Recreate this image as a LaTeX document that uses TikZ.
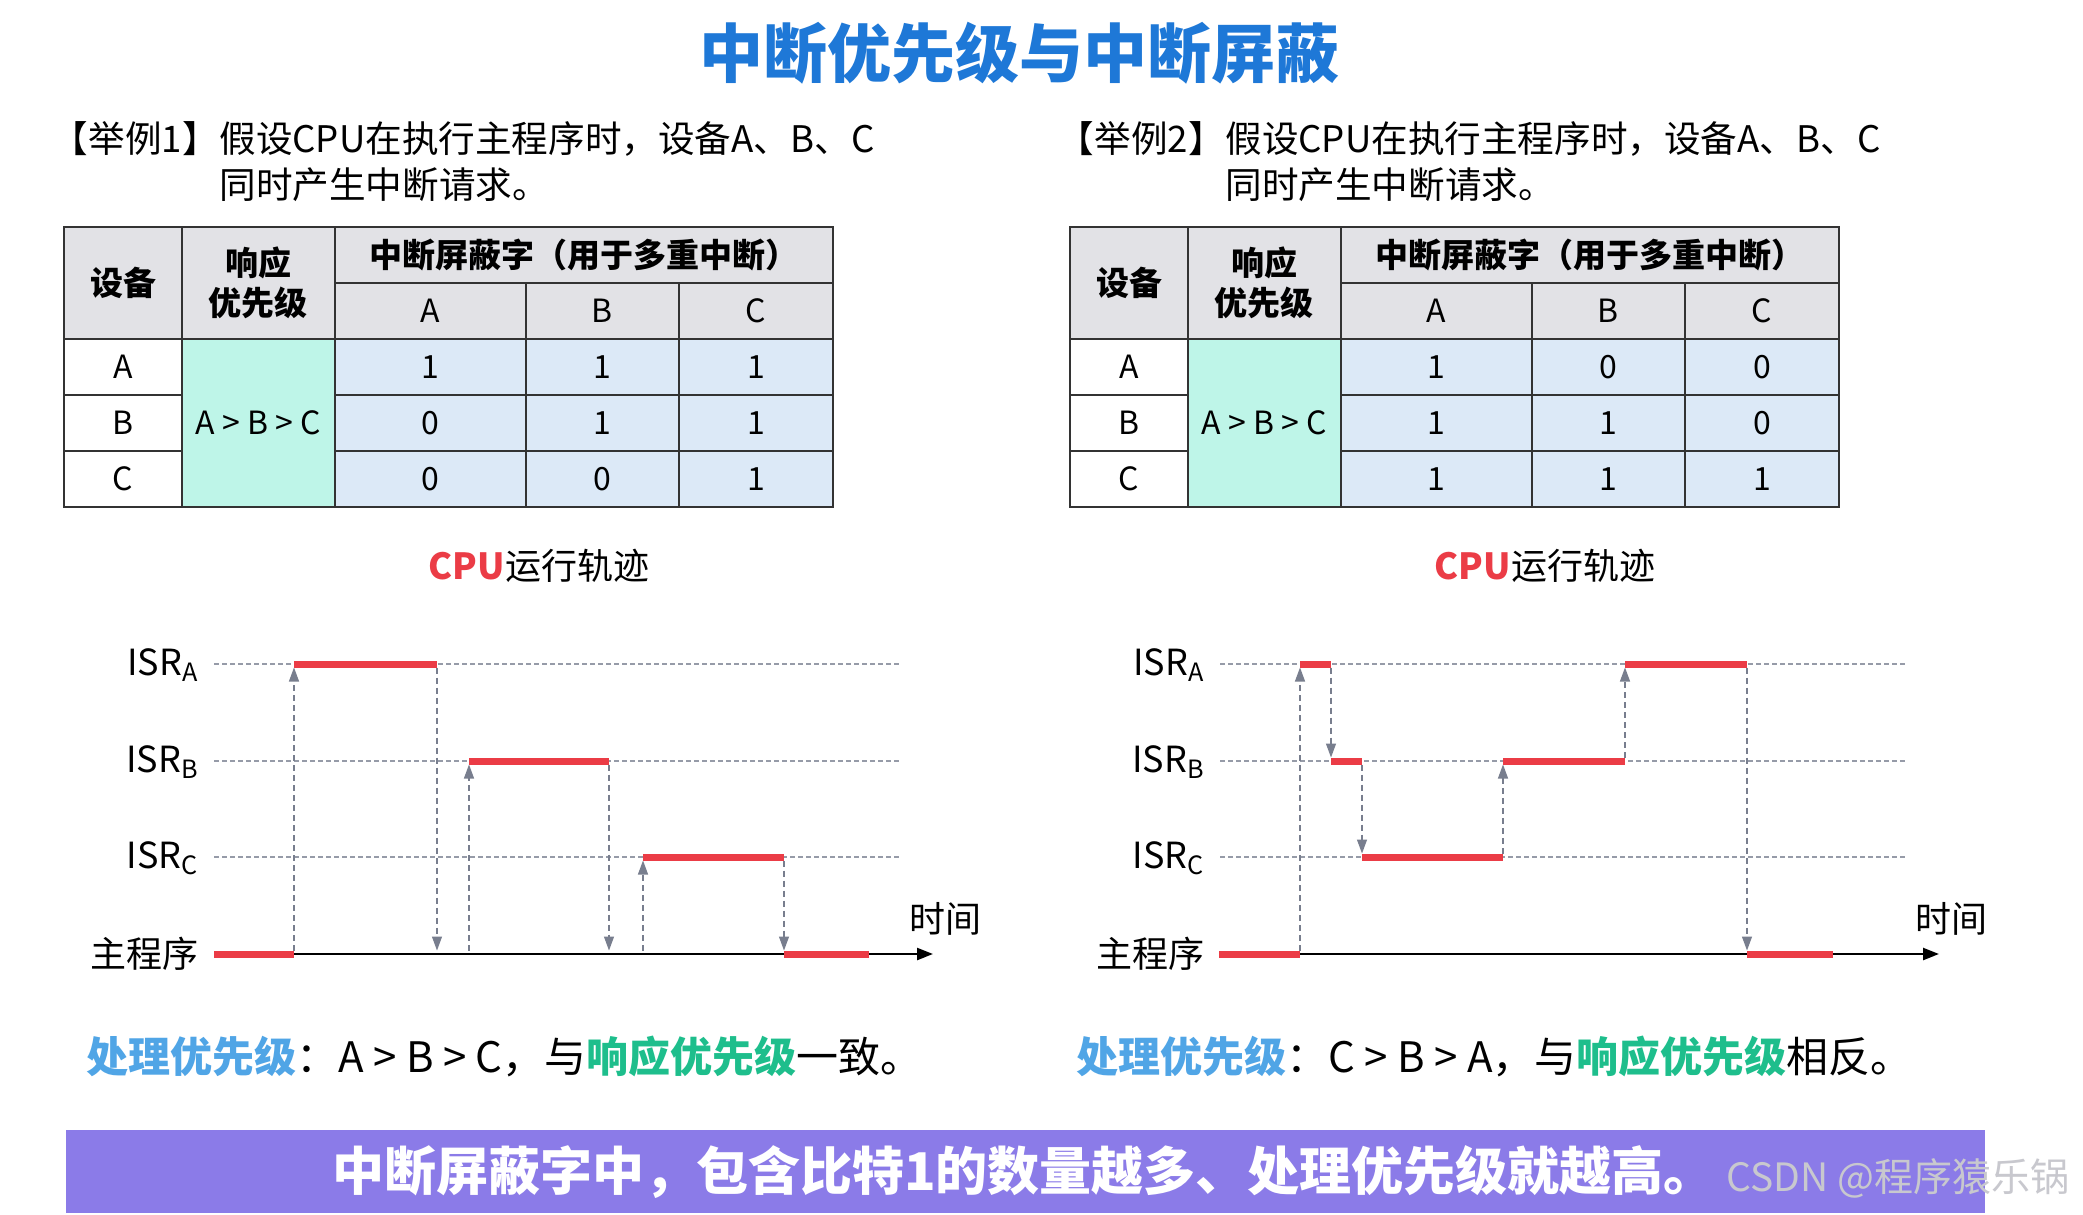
\documentclass[tikz,border=0pt]{standalone}
\usepackage{fontspec}
\setmainfont{Noto Sans CJK SC}
\usetikzlibrary{arrows.meta}

\definecolor{titleblue}{RGB}{30,120,215}
\definecolor{headgray}{RGB}{226,226,230}
\definecolor{mint}{RGB}{190,245,232}
\definecolor{cellblue}{RGB}{220,233,247}
\definecolor{runred}{RGB}{235,60,70}
\definecolor{jumpgray}{RGB}{120,126,142}
\definecolor{levelgray}{RGB}{150,155,168}
\definecolor{procblue}{RGB}{80,165,230}
\definecolor{respgreen}{RGB}{30,190,140}
\definecolor{bannerpurple}{RGB}{139,123,232}
\definecolor{wmgray}{RGB}{200,200,206}

\begin{document}
\begin{tikzpicture}[x=0.5pt, y=-0.5pt,
    title/.style={font=\fontsize{32}{38}\selectfont\bfseries, text=titleblue},
    intro/.style={font=\fontsize{18.3}{22}\selectfont, inner sep=0pt},
    head/.style={font=\fontsize{16.5}{20}\selectfont\bfseries, inner sep=0pt},
    cell/.style={font=\fontsize{16}{20}\selectfont, inner sep=0pt},
    grid/.style={draw=black!80, line width=1pt},
    track/.style={font=\fontsize{18}{22}\selectfont},
    lbl/.style={font=\fontsize{18}{22}\selectfont, inner sep=0pt},
    level/.style={draw=levelgray, line width=0.9pt, dash pattern=on 2.5pt off 1.5pt},
    axis/.style={draw=black, line width=1.2pt, -{Triangle[length=8pt,width=6pt]}},
    run/.style={draw=runred, line width=3.5pt},
    jump/.style={draw=jumpgray, line width=0.6pt, dash pattern=on 3pt off 2pt,
      -{Triangle[length=7pt,width=5pt]}, shorten >=1.75pt, shorten <=1.75pt},
    note/.style={font=\fontsize{21}{25}\selectfont, inner sep=0pt}]

  \fill[white, use as bounding box] (0,0) rectangle (2083,1215);

  % Title
  \node[title] (title) at (1019,53) {中断优先级与中断屏蔽};

  % Both examples: text, table, chart frame
  \foreach \px/\num in {0/1, 1006/2} {
    \begin{scope}[shift={(\px,0)}]
      \node[intro, anchor=east] (tag\num) at (219,139) {【举例\num】};
      \node[intro, anchor=west] (line\num a) at (219,139) {假设CPU在执行主程序时，设备A、B、C};
      \node[intro, anchor=west] (line\num b) at (219,185) {同时产生中断请求。};

      \fill[headgray] (64,227) rectangle (833,339);
      \fill[white] (64,339) rectangle (182,507);
      \fill[mint] (182,339) rectangle (335,507);
      \fill[cellblue] (335,339) rectangle (833,507);
      \draw[grid] (64,227) rectangle (833,507);
      \draw[grid] (182,227) -- (182,507) (335,227) -- (335,507);
      \draw[grid] (335,283) -- (833,283) (526,283) -- (526,507) (679,283) -- (679,507);
      \draw[grid] (64,339) -- (833,339);
      \draw[grid] (64,395) -- (182,395) (335,395) -- (833,395);
      \draw[grid] (64,451) -- (182,451) (335,451) -- (833,451);

      \node[head] (dev\num) at (123,283) {设备};
      \node[head, align=center] (resp\num) at (258,283) {响应\\优先级};
      \node[head] (mask\num) at (584,255) {中断屏蔽字（用于多重中断）};
      \node[cell] (ha\num) at (430,311) {A};
      \node[cell] (hb\num) at (602,311) {B};
      \node[cell] (hc\num) at (756,311) {C};
      \node[cell] (da\num) at (123,367) {A};
      \node[cell] (db\num) at (123,423) {B};
      \node[cell] (dc\num) at (123,479) {C};
      \node[cell] (order\num) at (258,423) {A > B > C};

      \node[track] (track\num) at (539,566) {\textcolor{runred}{\bfseries CPU}运行轨迹};
      \node[lbl, anchor=base east] (isra\num) at (199,675) {ISR\textsubscript{A}};
      \node[lbl, anchor=base east] (isrb\num) at (199,772) {ISR\textsubscript{B}};
      \node[lbl, anchor=base east] (isrc\num) at (199,868) {ISR\textsubscript{C}};
      \node[lbl, anchor=east] (main\num) at (199,954) {主程序};
      \node[lbl] (time\num) at (945,919) {时间};
      \draw[level] (214,664) -- (902,664);
      \draw[level] (214,761) -- (902,761);
      \draw[level] (214,857) -- (902,857);
      \draw[axis] (214,954) -- (933,954);
    \end{scope}
  }

  % Mask bits
  \foreach \px/\row/\y/\va/\vb/\vc in {0/1/367/1/1/1, 0/2/423/0/1/1, 0/3/479/0/0/1,
      1006/1/367/1/0/0, 1006/2/423/1/1/0, 1006/3/479/1/1/1} {
    \node[cell] (bit-\px-\row-a) at (430+\px,\y) {\va};
    \node[cell] (bit-\px-\row-b) at (602+\px,\y) {\vb};
    \node[cell] (bit-\px-\row-c) at (756+\px,\y) {\vc};
  }

  % Example 1 trace
  \coordinate (L-m0) at (214,954);
  \coordinate (L-m1) at (294,954);
  \coordinate (L-a1) at (294,664);
  \coordinate (L-a2) at (437,664);
  \coordinate (L-m2) at (437,954);
  \coordinate (L-m3) at (469,954);
  \coordinate (L-b1) at (469,761);
  \coordinate (L-b2) at (609,761);
  \coordinate (L-m4) at (609,954);
  \coordinate (L-m5) at (643,954);
  \coordinate (L-c1) at (643,857);
  \coordinate (L-c2) at (784,857);
  \coordinate (L-m6) at (784,954);
  \coordinate (L-m7) at (869,954);
  \draw[jump] (L-m1) -- (L-a1);
  \draw[jump] (L-a2) -- (L-m2);
  \draw[jump] (L-m3) -- (L-b1);
  \draw[jump] (L-b2) -- (L-m4);
  \draw[jump] (L-m5) -- (L-c1);
  \draw[jump] (L-c2) -- (L-m6);
  \draw[run] (L-m0) -- (L-m1);
  \draw[run] (L-a1) -- (L-a2);
  \draw[run] (L-b1) -- (L-b2);
  \draw[run] (L-c1) -- (L-c2);
  \draw[run] (L-m6) -- (L-m7);

  % Example 2 trace
  \coordinate (R-m0) at (1219,954);
  \coordinate (R-m1) at (1300,954);
  \coordinate (R-a1) at (1300,664);
  \coordinate (R-a2) at (1331,664);
  \coordinate (R-b1) at (1331,761);
  \coordinate (R-b2) at (1362,761);
  \coordinate (R-c1) at (1362,857);
  \coordinate (R-c2) at (1503,857);
  \coordinate (R-b3) at (1503,761);
  \coordinate (R-b4) at (1625,761);
  \coordinate (R-a3) at (1625,664);
  \coordinate (R-a4) at (1747,664);
  \coordinate (R-m2) at (1747,954);
  \coordinate (R-m3) at (1833,954);
  \draw[jump] (R-m1) -- (R-a1);
  \draw[jump] (R-a2) -- (R-b1);
  \draw[jump] (R-b2) -- (R-c1);
  \draw[jump] (R-c2) -- (R-b3);
  \draw[jump] (R-b4) -- (R-a3);
  \draw[jump] (R-a4) -- (R-m2);
  \draw[run] (R-m0) -- (R-m1);
  \draw[run] (R-a1) -- (R-a2);
  \draw[run] (R-b1) -- (R-b2);
  \draw[run] (R-c1) -- (R-c2);
  \draw[run] (R-b3) -- (R-b4);
  \draw[run] (R-a3) -- (R-a4);
  \draw[run] (R-m2) -- (R-m3);

  % Conclusions
  \node[note, anchor=west] (concl1) at (86,1056)
    {\textcolor{procblue}{\bfseries 处理优先级}：A > B > C，与\textcolor{respgreen}{\bfseries 响应优先级}一致。};
  \node[note, anchor=west] (concl2) at (1076,1056)
    {\textcolor{procblue}{\bfseries 处理优先级}：C > B > A，与\textcolor{respgreen}{\bfseries 响应优先级}相反。};

  \fill[bannerpurple] (66,1130) rectangle (1985,1213);
  \node[font=\fontsize{26}{31}\selectfont\bfseries, text=white] (rule) at (1024,1172)
    {中断屏蔽字中，包含比特1的数量越多、处理优先级就越高。};
  \node[font=\fontsize{19.5}{24}\selectfont, text=wmgray, anchor=west, inner sep=0pt] (mark) at (1726,1178)
    {CSDN @程序猿乐锅};
\end{tikzpicture}
\end{document}
